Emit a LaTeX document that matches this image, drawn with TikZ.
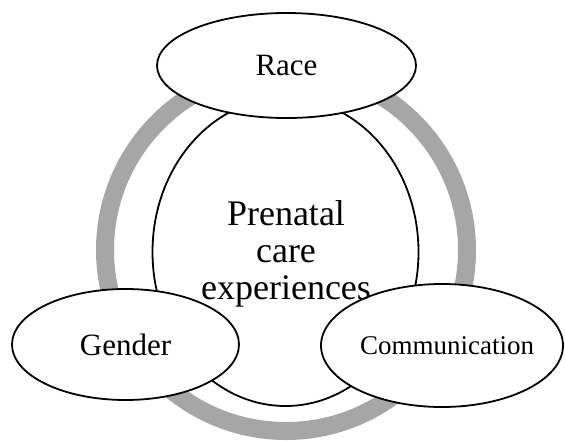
\documentclass[tikz,border=0pt]{standalone}
\usepackage{fontspec}
\setmainfont{Liberation Serif}
\usetikzlibrary{shapes.geometric}
\definecolor{ringgray}{RGB}{166,166,166}
\begin{document}
\begin{tikzpicture}[x=1pt,y=-1pt,
  bubble/.style={ellipse, draw=black, line width=1.8pt, fill=white, inner sep=0pt},
  ring/.style={draw=ringgray, line width=18pt},
  bigtext/.style={font=\fontsize{36}{37}\selectfont, align=center, inner sep=0pt},
  midtext/.style={font=\fontsize{31}{36}\selectfont},
  smalltext/.style={font=\fontsize{27}{32}\selectfont}]
\useasboundingbox (0,0) rectangle (565,440);
% grey cycle behind everything
\draw[ring] (286,250) circle[radius=181];
% central theme
\node[bubble, minimum width=266pt, minimum height=308pt] (core) at (285.5,252) {};
% the three factors
\node[bubble, midtext, minimum width=259pt, minimum height=105pt] (race) at (286.5,65.5) {Race};
\node[bubble, midtext, minimum width=227pt, minimum height=111pt] (gender) at (125.5,344.5) {Gender};
\node[bubble, minimum width=242pt, minimum height=123pt,
      label={[smalltext, xshift=5pt]center:Communication}] (comm) at (442,345.5) {};
% central label, set on top of the factor bubbles
\node[bigtext] (coretext) at (286,253.6) {Prenatal\\care\\experiences};
\end{tikzpicture}
\end{document}
